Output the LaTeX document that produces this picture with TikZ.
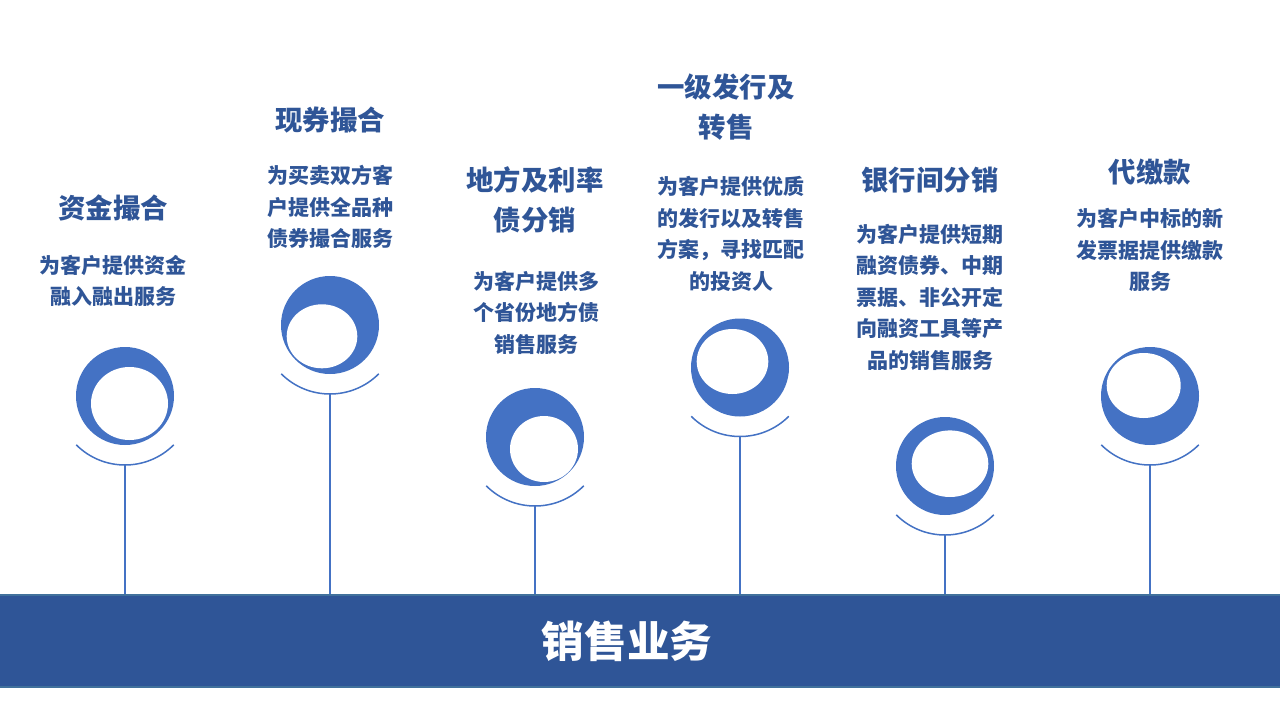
\documentclass[tikz,border=0pt]{standalone}
\usepackage{fontspec}
\usetikzlibrary{calc}
\setmainfont{Noto Sans CJK SC}
\definecolor{dblue}{HTML}{2F5597}
\definecolor{mblue}{HTML}{4472C4}
\definecolor{edgeblue}{HTML}{41719C}
\tikzset{
  ttl/.style={text=dblue, font=\bfseries\fontsize{27.4}{40}\selectfont, align=center, inner sep=0pt},
  dsc/.style={text=dblue, font=\bfseries\fontsize{21}{31.5}\selectfont, align=center, inner sep=0pt},
  ball/.style={circle, fill=mblue, minimum size=98pt, inner sep=0pt},
  stem/.style={draw=mblue, line width=1.5pt},
}
\begin{document}
\begin{tikzpicture}[x=1pt,y=-1pt]
\useasboundingbox[fill=white] (0,0) rectangle (1280,720);
% bar
\node[fill=dblue, draw=edgeblue, line width=1.5pt, minimum width=1282pt, minimum height=92pt, inner sep=0pt] (bar) at (640,641) {};
\node[text=white, font=\bfseries\fontsize{42.6}{50}\selectfont, inner sep=0pt] (bartext) at (627,641) {销售业务};
% circles, arcs, stems
\foreach \i/\x/\y/\dx/\dy/\rx/\ry in {
  1/125/396/4.5/7.5/38.5/36.5,
  2/330/325/-8/11.3/35.3/32,
  3/535/437/9/12/34/33,
  4/740/367.5/-7.5/-6/35.8/32.5,
  5/945/466/5/-2.3/38.3/33.3,
  6/1150/396/-6.3/-10.5/37/32.5}{
  \node[ball] (c\i) at (\x,\y) {};
  \fill[white] ($(c\i.center)+(\dx,\dy)$) ellipse [x radius=\rx pt, y radius=\ry pt];
  \coordinate (a\i) at ($(c\i.center)+(0,69)$);
  \draw[stem] ($(c\i.center)+(225:69pt)$) arc[start angle=225, end angle=315, radius=69pt];
  \draw[stem] (a\i) -- (a\i |- bar.north);
}
% texts
\node[ttl] (t1) at (113,208) {资金撮合};
\node[dsc] (d1) at (113,281) {为客户提供资金\\融入融出服务};
\node[ttl] (t2) at (330,120) {现券撮合};
\node[dsc] (d2) at (330,207) {为买卖双方客\\户提供全品种\\债券撮合服务};
\node[ttl] (t3) at (535,200) {地方及利率\\债分销};
\node[dsc] (d3) at (536,312.5) {为客户提供多\\个省份地方债\\销售服务};
\node[ttl] (t4) at (726,107) {一级发行及\\转售};
\node[dsc] (d4) at (731,234) {为客户提供优质\\的发行以及转售\\方案，寻找匹配\\的投资人};
\node[ttl] (t5) at (930,180) {银行间分销};
\node[dsc] (d5) at (930,297) {为客户提供短期\\融资债券、中期\\票据、非公开定\\向融资工具等产\\品的销售服务};
\node[ttl] (t6) at (1150,172) {代缴款};
\node[dsc] (d6) at (1150,250) {为客户中标的新\\发票据提供缴款\\服务};
\end{tikzpicture}
\end{document}
